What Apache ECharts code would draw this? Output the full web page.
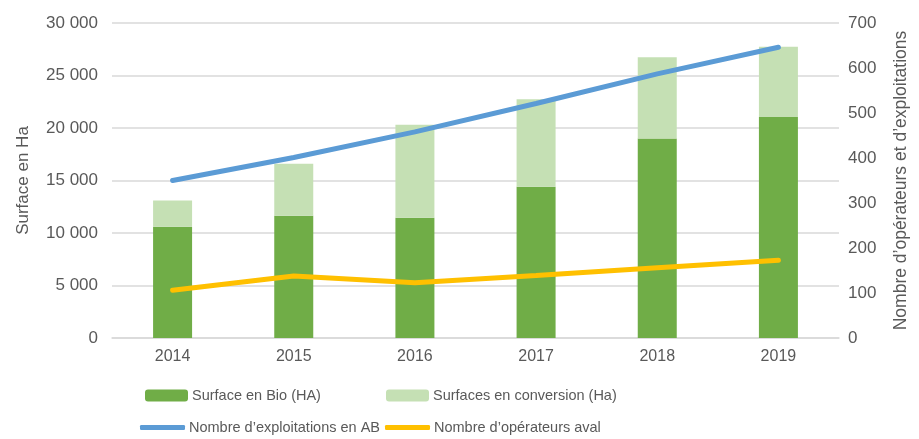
<!DOCTYPE html>
<html>
<head>
<meta charset="utf-8">
<script src="https://cdn.jsdelivr.net/npm/echarts@6/dist/echarts.min.js"></script>
<style>
  html, body { margin: 0; padding: 0; background: #fff; }
  #chart { width: 919px; height: 439px; }
</style>
</head>
<body>
<div id="chart"></div>
<script>
const years = ['2014', '2015', '2016', '2017', '2018', '2019'];
const surfaceBio = [10600, 11650, 11450, 14400, 19000, 21050];
const surfaceConversion = [2500, 4950, 8850, 8350, 7750, 6700];
const nbExploitations = [350, 401, 458, 521, 587, 646];
const nbOperateurs = [106, 138, 123, 139, 156, 173];

const FONT = "'Liberation Sans Narrow', 'Liberation Sans', sans-serif";
const TXT = '#595959';

const chart = echarts.init(document.getElementById('chart'));

const fmtThousands = (v) => String(v).replace(/\B(?=(\d{3})+(?!\d))/g, ' ');

const legendBase = {
    padding: 0,
    itemWidth: 43,
    itemHeight: 12,
    itemGap: 0,
    textStyle: { color: TXT, fontSize: 14.5, fontFamily: FONT, padding: [0, 0, 0, -1] },
    selectedMode: false
};
const lineLegend = { ...legendBase, icon: 'roundRect', itemWidth: 45, itemHeight: 5 };

chart.setOption({
    animation: false,
    textStyle: { fontFamily: FONT },
    grid: { left: 112, right: 80, top: 23, bottom: 101 },
    legend: [
        { ...legendBase, data: ['Surface en Bio (HA)'], left: 145, top: 388 },
        { ...legendBase, data: ['Surfaces en conversion (Ha)'], left: 386, top: 388 },
        { ...lineLegend, data: ['Nombre d’exploitations en AB'], left: 140, top: 420 },
        { ...lineLegend, data: ['Nombre d’opérateurs aval'], left: 385, top: 420 }
    ],
    xAxis: {
        type: 'category',
        data: years,
        axisTick: { show: false },
        axisLine: { lineStyle: { color: '#d9d9d9', width: 1.5 } },
        axisLabel: { color: TXT, fontSize: 16, fontFamily: FONT, margin: 11 }
    },
    yAxis: [
        {
            type: 'value',
            min: 0,
            max: 30000,
            interval: 5000,
            name: 'Surface en Ha',
            nameLocation: 'middle',
            nameGap: 80,
            nameTextStyle: { color: TXT, fontSize: 17, fontFamily: FONT },
            axisLine: { show: false },
            axisTick: { show: false },
            axisLabel: { color: TXT, fontSize: 17, fontFamily: FONT, margin: 14, formatter: fmtThousands },
            splitLine: { lineStyle: { color: '#d9d9d9', width: 1.5 } }
        },
        {
            type: 'value',
            min: 0,
            max: 700,
            interval: 100,
            name: 'Nombre d’opérateurs et d’exploitations',
            nameLocation: 'middle',
            nameGap: 53,
            nameRotate: 90,
            nameTextStyle: { color: TXT, fontSize: 17.5, fontFamily: FONT },
            axisLine: { show: false },
            axisTick: { show: false },
            axisLabel: { color: TXT, fontSize: 17, fontFamily: FONT, margin: 9 },
            splitLine: { show: false }
        }
    ],
    series: [
        {
            name: 'Surface en Bio (HA)',
            type: 'bar',
            stack: 'surface',
            barWidth: 39,
            data: surfaceBio,
            itemStyle: { color: '#70ad47' }
        },
        {
            name: 'Surfaces en conversion (Ha)',
            type: 'bar',
            stack: 'surface',
            barWidth: 39,
            data: surfaceConversion,
            itemStyle: { color: '#c5e0b4' }
        },
        {
            name: 'Nombre d’exploitations en AB',
            type: 'line',
            yAxisIndex: 1,
            data: nbExploitations,
            symbol: 'none',
            lineStyle: { color: '#5b9bd5', width: 5, cap: 'round' },
            itemStyle: { color: '#5b9bd5' }
        },
        {
            name: 'Nombre d’opérateurs aval',
            type: 'line',
            yAxisIndex: 1,
            data: nbOperateurs,
            symbol: 'none',
            lineStyle: { color: '#ffc000', width: 5, cap: 'round' },
            itemStyle: { color: '#ffc000' }
        }
    ]
});
</script>
</body>
</html>
